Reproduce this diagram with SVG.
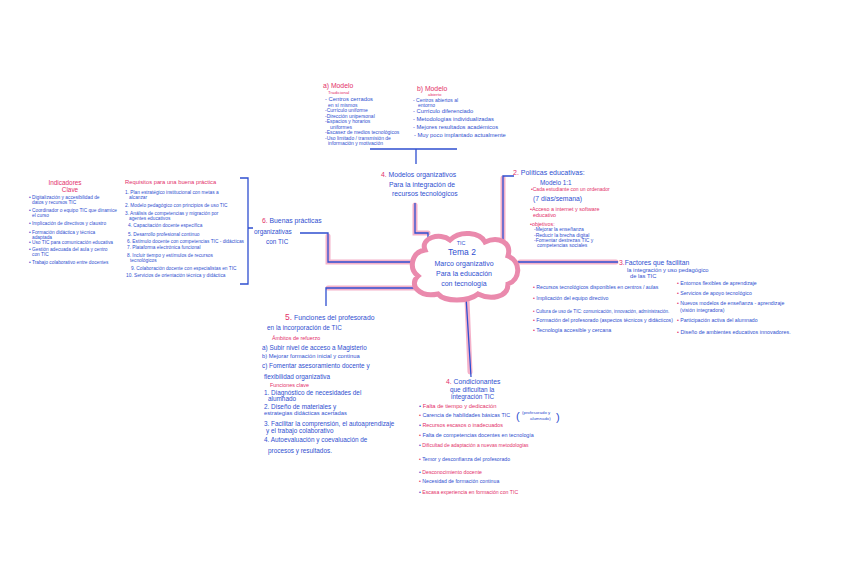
<svg xmlns="http://www.w3.org/2000/svg" width="848" height="561" viewBox="0 0 848 561">
<style>
text{font-family:"Liberation Sans",Arial,sans-serif;}
.b{fill:#2f4fd0}.p{fill:#e3306a}
.hl{fill:none;stroke:#f2a3bf;stroke-width:5;stroke-linecap:round;opacity:.85}
.ln{fill:none;stroke:#2f4fd0;stroke-width:1.3}
.f4{font-size:4.8px}.f45{font-size:5px}.fr{font-size:4.8px}.f48{font-size:5.2px}.f5{font-size:5.4px}.f55{font-size:5.8px}.f6{font-size:6.4px}.f65{font-size:6.8px}.f7{font-size:7px}.f8{font-size:8.5px}
.c{text-anchor:middle}
</style>
<rect width="848" height="561" fill="#ffffff"/>
<g id="connectors">
<path class="hl" d="M415,205 V233 H428"/>
<path class="hl" d="M503,178 V255"/>
<path class="hl" d="M520,262 H616"/>
<path class="hl" d="M328,236 V262 H416"/>
<path class="hl" d="M418,288 H328"/>
<path class="hl" d="M467,300 L470,372"/>
<path class="ln" d="M370,149 H457 M416,149 V164"/>
<path class="ln" d="M415,203 V233 H428 V245"/>
<path class="ln" d="M514,176 H503 V255"/>
<path class="ln" d="M516,262 H618"/>
<path class="ln" d="M300,233 H328 V262 H418"/>
<path class="ln" d="M420,288 H326 V306"/>
<path class="ln" d="M466,296 L471,377"/>
<path class="ln" d="M240,178 H248 V284 H240 M248,228 H253"/>
</g>
<g id="center">
<path d="M425,250 C420,238 440,232 450,240 C460,230 480,232 485,242 C498,236 512,242 508,256 C522,262 520,280 508,284 C508,298 490,300 478,294 C468,302 445,302 438,294 C420,298 408,285 418,276 C408,268 412,252 425,250 Z" fill="#fff" stroke="#ea8aad" stroke-width="5"/>
<text class="b f5 c" x="461" y="245">TIC</text>
<text class="b f8 c" x="462" y="255">Tema 2</text>
<text class="b f7 c" x="464" y="266">Marco organizativo</text>
<text class="b f7 c" x="464" y="276">Para la educación</text>
<text class="b f7 c" x="464" y="286">con tecnología</text>
</g>
<g id="models">
<text class="p f65" x="323" y="88">a) Modelo</text>
<text class="p" font-size="4.4" x="328" y="94">Tradicional</text>
<text class="b f55" x="325" y="101">- Centros cerrados</text>
<text class="b f45" x="328" y="106.5">en sí mismos</text>
<text class="b f45" x="325" y="112">-Currículo uniforme</text>
<text class="b f45" x="325" y="117.5">-Dirección unipersonal</text>
<text class="b f45" x="325" y="123">-Espacios y horarios</text>
<text class="b f45" x="330" y="128.5">uniformes</text>
<text class="b f45" x="325" y="134">-Escasez de medios tecnológicos</text>
<text class="b f45" x="325" y="139.5">-Uso limitado / transmisión de</text>
<text class="b f45" x="328" y="145">información y motivación</text>
<text class="p f65" x="417" y="91">b) Modelo</text>
<text class="p" font-size="4.4" x="428" y="96">abierto</text>
<text class="b f45" x="413" y="102">- Centros abiertos al</text>
<text class="b f45" x="418" y="107">entorno</text>
<text class="b f55" x="413" y="113">- Currículo diferenciado</text>
<text class="b f55" x="413" y="121">- Metodologías individualizadas</text>
<text class="b f55" x="413" y="129">- Mejores resultados académicos</text>
<text class="b f55" x="414" y="137">- Muy poco implantado actualmente</text>
</g>
<g id="node4">
<text class="b f65" x="381" y="177"><tspan class="p">4.</tspan> Modelos organizativos</text>
<text class="b f65" x="389" y="187">Para la integración de</text>
<text class="b f65" x="392" y="196">recursos tecnológicos</text>
</g>
<g id="node2">
<text class="b f7" x="513" y="175"><tspan class="p">2.</tspan> Políticas educativas:</text>
<text class="b f6" x="540" y="185">Modelo 1:1</text>
<text class="p f45" x="531" y="191">•Cada estudiante con un ordenador</text>
<text class="b f65" x="533" y="201">(7 días/semana)</text>
<text class="p f5" x="530" y="211">•Acceso a internet y software</text>
<text class="p f5" x="533" y="217">educativo</text>
<text class="p f5" x="530" y="226">•objetivos:</text>
<text class="b f45" x="534" y="231">-Mejorar la enseñanza</text>
<text class="b f45" x="534" y="237">-Reducir la brecha digital</text>
<text class="b f45" x="534" y="242">-Fomentar destrezas TIC y</text>
<text class="b f45" x="537" y="247">competencias sociales</text>
</g>
<g id="node3">
<text class="b f65" x="619" y="265"><tspan class="p">3.</tspan>Factores que facilitan</text>
<text class="b f55" x="627" y="272">la integración y uso pedagógico</text>
<text class="b f55" x="630" y="278">de las TIC</text>
<text class="b f48" x="533" y="289"><tspan class="p">•</tspan> Recursos tecnológicos disponibles en centros / aulas</text>
<text class="b f48" x="533" y="300"><tspan class="p">•</tspan> Implicación del equipo directivo</text>
<text class="b" font-size="4.6" x="533" y="313"><tspan class="p">•</tspan> Cultura de uso de TIC: comunicación, innovación, administración.</text>
<text class="b f48" x="533" y="322"><tspan class="p">•</tspan> Formación del profesorado (aspectos técnicos y didácticos)</text>
<text class="b f5" x="533" y="332"><tspan class="p">•</tspan> Tecnología accesible y cercana</text>
<text class="b f48" x="677" y="285"><tspan class="p">•</tspan> Entornos flexibles de aprendizaje</text>
<text class="b f48" x="677" y="295"><tspan class="p">•</tspan> Servicios de apoyo tecnológico</text>
<text class="b f48" x="677" y="304.5"><tspan class="p">•</tspan> Nuevos modelos de enseñanza - aprendizaje</text>
<text class="b f48" x="680" y="312">(visión integradora)</text>
<text class="b f48" x="677" y="322"><tspan class="p">•</tspan> Participación activa del alumnado</text>
<text class="b f5" x="677" y="334"><tspan class="p">•</tspan> Diseño de ambientes educativos innovadores.</text>
</g>
<g id="node6">
<text class="b f65" x="262" y="223"><tspan class="p">6.</tspan> Buenas prácticas</text>
<text class="b f6" x="254" y="234">organizativas</text>
<text class="b f6" x="266" y="244">con TIC</text>
</g>
<g id="requisitos">
<text class="p f55" x="125" y="184">Requisitos para una buena práctica</text>
<text class="b fr" x="125" y="194">1. Plan estratégico institucional con metas a</text>
<text class="b fr" x="129" y="199">alcanzar</text>
<text class="b fr" x="125" y="207">2. Modelo pedagógico con principios de uso TIC</text>
<text class="b fr" x="125" y="215">3. Análisis de competencias y migración por</text>
<text class="b fr" x="129" y="220">agentes educativos</text>
<text class="b fr" x="128" y="227">4. Capacitación docente específica</text>
<text class="b fr" x="128" y="236">5. Desarrollo profesional continuo</text>
<text class="b fr" x="127" y="243">6. Estímulo docente con competencias TIC - didácticas</text>
<text class="b fr" x="127" y="249">7. Plataforma electrónica funcional</text>
<text class="b fr" x="127" y="257">8. Incluir tiempo y estímulos de recursos</text>
<text class="b fr" x="130" y="262">tecnológicos</text>
<text class="b fr" x="131" y="270">9. Colaboración docente con especialistas en TIC</text>
<text class="b fr" x="126" y="277">10. Servicios de orientación técnica y didáctica</text>
</g>
<g id="indicadores">
<text class="p f6 c" x="65" y="185">Indicadores</text>
<text class="p f6 c" x="70" y="192">Clave</text>
<text class="b f4" x="29" y="199">• Digitalización y accesibilidad de</text>
<text class="b f4" x="32" y="204">datos y recursos TIC</text>
<text class="b f4" x="29" y="212">• Coordinador o equipo TIC que dinamice</text>
<text class="b f4" x="32" y="217">el curso</text>
<text class="b f4" x="29" y="225">• Implicación de directivos y claustro</text>
<text class="b f4" x="29" y="234">• Formación didáctica y técnica</text>
<text class="b f4" x="32" y="239">adaptada</text>
<text class="b f4" x="29" y="244">• Uso TIC para comunicación educativa</text>
<text class="b f4" x="29" y="251">• Gestión adecuada del aula y centro</text>
<text class="b f4" x="32" y="256">con TIC</text>
<text class="b f4" x="29" y="264">• Trabajo colaborativo entre docentes</text>
</g>
<g id="node5">
<text class="b f65" x="285" y="320"><tspan class="p" font-size="8.5">5.</tspan> Funciones del profesorado</text>
<text class="b f6" x="267" y="330">en la incorporación de TIC</text>
<text class="p f5" x="272" y="340">Ámbitos de refuerzo</text>
<text class="b f6" x="262" y="350">a) Subir nivel de acceso a Magisterio</text>
<text class="b f55" x="262" y="358">b) Mejorar formación inicial y continua</text>
<text class="b f6" x="262" y="368">c) Fomentar asesoramiento docente y</text>
<text class="b f6" x="264" y="379">flexibilidad organizativa</text>
<text class="p f5" x="270" y="387">Funciones clave</text>
<text class="b f6" x="264" y="395">1. Diagnóstico de necesidades del</text>
<text class="b f6" x="268" y="401">alumnado</text>
<text class="b f6" x="264" y="409">2. Diseño de materiales y</text>
<text class="b f55" x="264" y="415">estrategias didácticas acertadas</text>
<text class="b f6" x="264" y="426">3. Facilitar la comprensión, el autoaprendizaje</text>
<text class="b f6" x="266" y="433">y el trabajo colaborativo</text>
<text class="b f6" x="264" y="442">4. Autoevaluación y coevaluación de</text>
<text class="b f6" x="268" y="453">procesos y resultados.</text>
</g>
<g id="node4b">
<text class="b f65" x="446" y="384"><tspan class="p">4.</tspan> Condicionantes</text>
<text class="b f6" x="450" y="392">que dificultan la</text>
<text class="b f6" x="451" y="399">integración TIC</text>
<text class="p f55" x="419" y="408"><tspan class="b">•</tspan> Falta de tiempo y dedicación</text>
<text class="b f5" x="419" y="417"><tspan class="p">•</tspan> Carencia de habilidades básicas TIC</text>
<text class="b" font-size="4.4" x="522" y="414">(profesorado y</text>
<text class="b" font-size="4.4" x="530" y="420">alumnado)</text>
<text class="b" x="516" y="420" font-size="11">(</text>
<text class="b" x="556" y="421" font-size="11">)</text>
<text class="p f5" x="419" y="427"><tspan class="b">•</tspan> Recursos escasos o inadecuados</text>
<text class="b f5" x="419" y="437"><tspan class="p">•</tspan> Falta de competencias docentes en tecnología</text>
<text class="p f45" x="419" y="447"><tspan class="b">•</tspan> Dificultad de adaptación a nuevas metodologías</text>
<text class="b f48" x="419" y="461"><tspan class="p">•</tspan> Temor y desconfianza del profesorado</text>
<text class="p f48" x="419" y="474"><tspan class="b">•</tspan> Desconocimiento docente</text>
<text class="b f48" x="419" y="483"><tspan class="p">•</tspan> Necesidad de formación continua</text>
<text class="p f48" x="419" y="494"><tspan class="b">•</tspan> Escasa experiencia en formación con TIC</text>
</g>
</svg>
